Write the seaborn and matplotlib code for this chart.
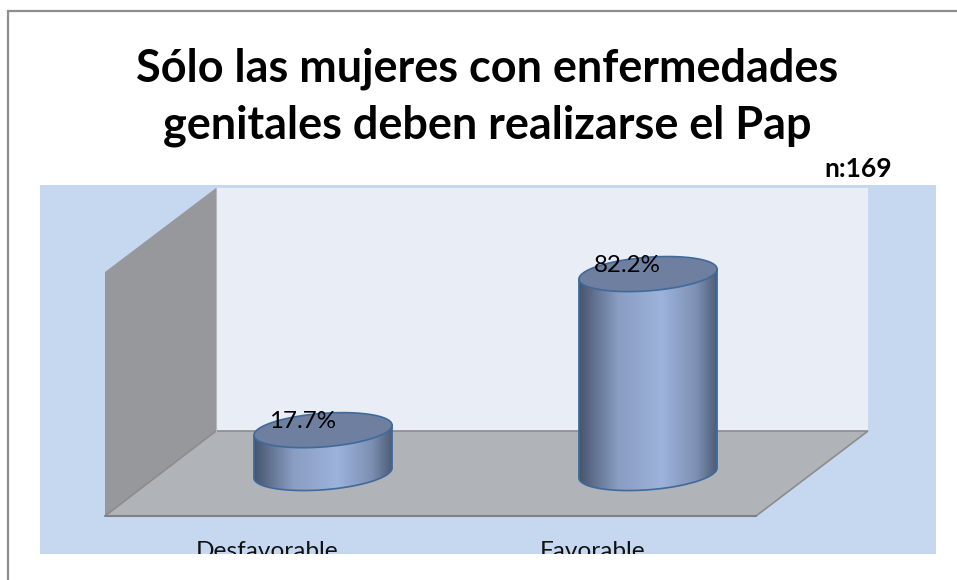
import numpy as np
import matplotlib
matplotlib.use("Agg")
import matplotlib.pyplot as plt
from matplotlib.colors import LinearSegmentedColormap
from matplotlib.patches import PathPatch, Polygon, Rectangle
from matplotlib.path import Path
import seaborn as sns

title = "Sólo las mujeres con enfermedades\ngenitales deben realizarse el Pap"
sample_note = "n:169"
categories = ["Desfavorable", "Favorable"]
percentages = [17.7, 82.2]

sns.set_theme(style="white")
plt.rcParams["font.family"] = ["Lato", "DejaVu Sans"]

fig = plt.figure(figsize=(9.57, 5.8), dpi=100, facecolor="white")

# backdrop in pixel coords
bg = fig.add_axes([0, 0, 1, 1])
bg.set_xlim(0, 957)
bg.set_ylim(580, 0)
bg.axis("off")
bg.plot([8, 8, 957], [580, 11, 11], color="#8e8e8e", lw=1.6, solid_joinstyle="miter")
panel = Rectangle((40, 185), 896, 369, facecolor="#c6d8f0", edgecolor="none")
bg.add_patch(panel)
bg.add_patch(Rectangle((216, 188), 652, 243, facecolor="#e8edf6", edgecolor="none"))
bg.add_patch(Polygon([(105, 272), (216, 188), (216, 431), (105, 516)], facecolor="#97989c", edgecolor="none"))
bg.add_patch(Polygon([(105, 516), (216, 431), (868, 431), (756, 516)], facecolor="#b0b3b8", edgecolor="#8b8c8e", lw=1.2))
bg.plot([105, 756], [516, 516], color="#808080", lw=1.5)
bg.plot([216, 216], [188, 431], color="#b5b7bb", lw=0.8)

bg.text(487, 97, title, ha="center", va="center", fontsize=32.4, fontweight="bold", color="black", linespacing=1.44)
bg.text(892, 169, sample_note, ha="right", va="center", fontsize=19, fontweight="bold", color="black")

# data axes, 2.42 px per percent, base of the bars at y=473 px
px_per_unit = 2.42
ax = fig.add_axes([160.5 / 957, (580 - 473 - 10 * px_per_unit) / 580, 650 / 957, 110 * px_per_unit / 580])
ax.patch.set_alpha(0)
sns.barplot(x=categories, y=percentages, width=0.425, color="#9db3da", ax=ax)
ax.set_ylim(-10, 100)
xlim = ax.get_xlim()
ax.axis("off")

side_shade = LinearSegmentedColormap.from_list(
    "cyl",
    [(0, "#47566f"), (0.28, "#8a9dc2"), (0.6, "#9db3dc"), (0.85, "#7d90b3"), (1, "#4c5b76")],
)
edge = "#3f6a9c"
b = 16.8 / px_per_unit
shear = 5 / px_per_unit
t = np.linspace(0, 2 * np.pi, 121)

for bar, cat, val in zip(list(ax.patches), categories, percentages):
    bar.set_visible(False)
    x0, w = bar.get_x(), bar.get_width()
    cx = x0 + w / 2
    top = bar.get_height()

    # body: lower half of base ellipse plus the two sides
    lower = np.linspace(np.pi, 2 * np.pi, 61)
    bx = cx + w / 2 * np.cos(lower)
    by = b * np.sin(lower) + shear * np.cos(lower)
    body_xy = np.vstack([[bx[0], top - shear], np.column_stack([bx, by]), [bx[-1], top + shear]])
    body = PathPatch(Path(np.vstack([body_xy, body_xy[0]])), facecolor="none", edgecolor=edge, lw=1.2, zorder=3)
    ax.add_patch(body)
    im = ax.imshow(np.linspace(0, 1, 200)[None, :], cmap=side_shade, aspect="auto", zorder=2,
                   extent=[x0, x0 + w, -b - shear, top + shear + 1])
    im.set_clip_path(body)

    # top cap
    ex = cx + w / 2 * np.cos(t)
    ey = top + b * np.sin(t) + shear * np.cos(t)
    ax.fill(ex, ey, facecolor="#6f7f9f", edgecolor=edge, lw=1.2, zorder=4)

    ax.annotate(f"{val}%", xy=(cx, top), xytext=(-15, 6), textcoords="offset points", ha="center", va="center",
                fontsize=17.4, color="black", zorder=5)
    lab = ax.annotate(cat, xy=(cx, 0), xytext=(-40, -56.5), textcoords="offset points", ha="center", va="center",
                      fontsize=17.6, color="#111111", zorder=5, annotation_clip=False)
    lab.set_clip_on(True)
    lab.set_clip_path(panel)

ax.set_xlim(xlim)
ax.set_ylim(-10, 100)

fig.savefig("out.png", dpi=100)
